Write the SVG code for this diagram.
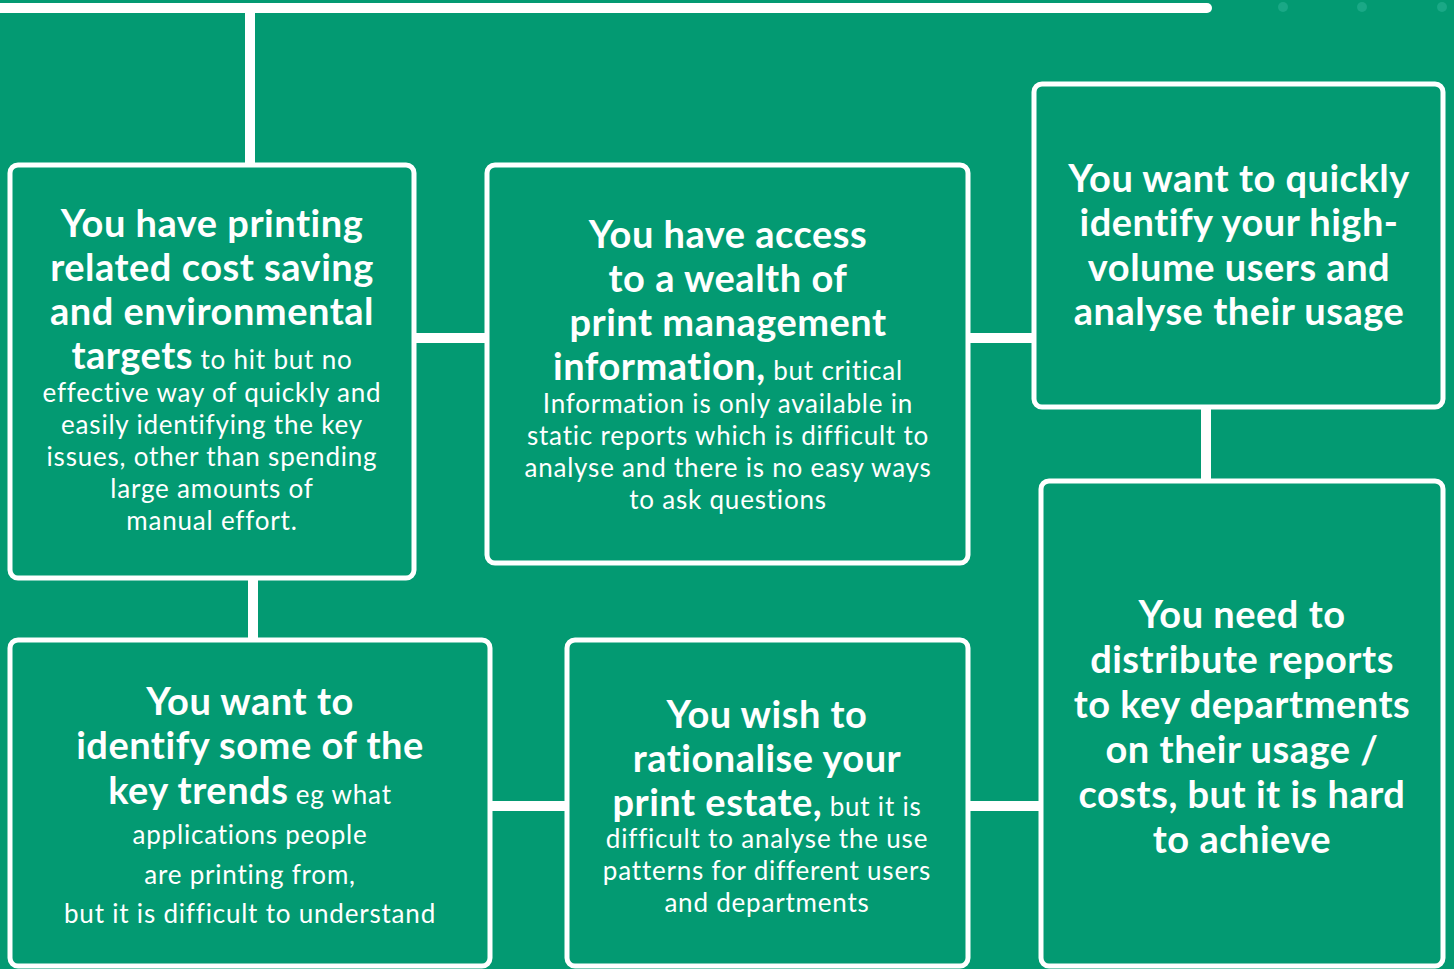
<svg xmlns="http://www.w3.org/2000/svg" width="1454" height="969" viewBox="0 0 1454 969">
<style>
.bg{fill:#039a72}
.box{fill:none;stroke:#ffffff;stroke-width:5}
.con{stroke:#ffffff;stroke-width:10;fill:none}
.dot{fill:#1aa886}
text{font-family:"Lato","Open Sans","Liberation Sans",sans-serif;fill:#ffffff;text-anchor:middle}
.b{font-weight:700;font-size:38px;letter-spacing:0.5px}
.r{font-weight:400;font-size:26px;letter-spacing:0.8px}
</style>
<rect class="bg" x="0" y="0" width="1454" height="969"/>
<rect x="-10" y="3" width="1222" height="10" rx="5" fill="#ffffff"/>
<circle class="dot" cx="1283" cy="7" r="5"/>
<circle class="dot" cx="1362" cy="7" r="5"/>
<circle class="dot" cx="1442" cy="7" r="5"/>
<g id="connectors">
<line class="con" x1="250" y1="8" x2="250" y2="165"/>
<line class="con" x1="414" y1="338" x2="487" y2="338"/>
<line class="con" x1="968" y1="338" x2="1034" y2="338"/>
<line class="con" x1="1206" y1="407" x2="1206" y2="481"/>
<line class="con" x1="253" y1="578" x2="253" y2="640"/>
<line class="con" x1="490" y1="806" x2="567" y2="806"/>
<line class="con" x1="968" y1="806" x2="1041" y2="806"/>
</g>
<g id="nodeA">
<rect class="box" x="10" y="165" width="404" height="413" rx="8"/>
<text class="b" x="212" y="237">You have printing</text>
<text class="b" x="212" y="281">related cost saving</text>
<text class="b" x="212" y="325">and environmental</text>
<text x="212" y="369"><tspan class="b">targets</tspan><tspan class="r"> to hit but no</tspan></text>
<text class="r" x="212" y="402">effective way of quickly and</text>
<text class="r" x="212" y="434">easily identifying the key</text>
<text class="r" x="212" y="466">issues, other than spending</text>
<text class="r" x="212" y="498">large amounts of</text>
<text class="r" x="212" y="530">manual effort.</text>
</g>
<g id="nodeB">
<rect class="box" x="487" y="165" width="481" height="398" rx="8"/>
<text class="b" x="728" y="248">You have access</text>
<text class="b" x="728" y="292">to a wealth of</text>
<text class="b" x="728" y="336">print management</text>
<text x="728" y="380"><tspan class="b">information,</tspan><tspan class="r"> but critical</tspan></text>
<text class="r" x="728" y="413">Information is only available in</text>
<text class="r" x="728" y="445">static reports which is difficult to</text>
<text class="r" x="728" y="477">analyse and there is no easy ways</text>
<text class="r" x="728" y="509">to ask questions</text>
</g>
<g id="nodeC">
<rect class="box" x="1034" y="84" width="409" height="323" rx="8"/>
<text class="b" x="1239" y="192">You want to quickly</text>
<text class="b" x="1239" y="236">identify your high-</text>
<text class="b" x="1239" y="281">volume users and</text>
<text class="b" x="1239" y="325">analyse their usage</text>
</g>
<g id="nodeD">
<rect class="box" x="1041" y="481" width="402" height="485" rx="8"/>
<text class="b" x="1242" y="628">You need to</text>
<text class="b" x="1242" y="673">distribute reports</text>
<text class="b" x="1242" y="718">to key departments</text>
<text class="b" x="1242" y="763">on their usage /</text>
<text class="b" x="1242" y="808">costs, but it is hard</text>
<text class="b" x="1242" y="853">to achieve</text>
</g>
<g id="nodeE">
<rect class="box" x="10" y="640" width="480" height="326" rx="8"/>
<text class="b" x="250" y="715">You want to</text>
<text class="b" x="250" y="759">identify some of the</text>
<text x="250" y="804"><tspan class="b">key trends</tspan><tspan class="r"> eg what</tspan></text>
<text class="r" x="250" y="844">applications people</text>
<text class="r" x="250" y="884">are printing from,</text>
<text class="r" x="250" y="923">but it is difficult to understand</text>
</g>
<g id="nodeF">
<rect class="box" x="567" y="640" width="401" height="326" rx="8"/>
<text class="b" x="767" y="728">You wish to</text>
<text class="b" x="767" y="772">rationalise your</text>
<text x="767" y="816"><tspan class="b">print estate,</tspan><tspan class="r"> but it is</tspan></text>
<text class="r" x="767" y="848">difficult to analyse the use</text>
<text class="r" x="767" y="880">patterns for different users</text>
<text class="r" x="767" y="912">and departments</text>
</g>
</svg>
